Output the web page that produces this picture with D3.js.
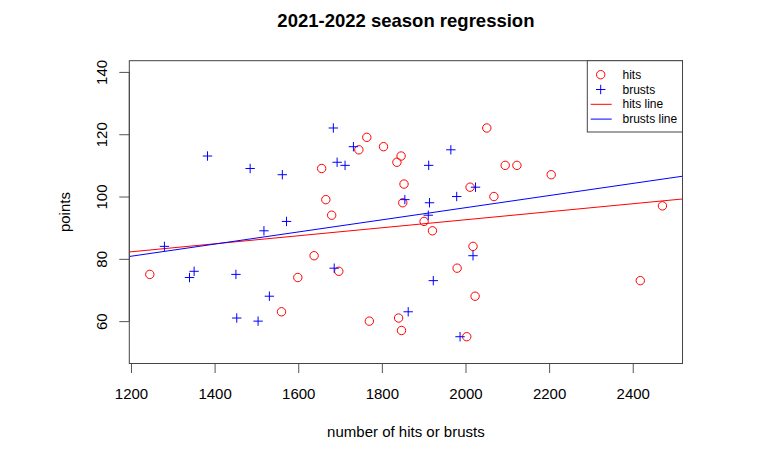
<!DOCTYPE html>
<html>
<head>
<meta charset="utf-8">
<script src="https://cdn.jsdelivr.net/npm/d3@7"></script>
<style>
  body { margin: 0; background: #fff; }
  svg { font-family: "Liberation Sans", Arial, Helvetica, sans-serif; }
</style>
</head>
<body>
<div id="chart"></div>
<script>
// hits (red circles) and brusts (blue plus signs)
const hitsX = [1245, 1560, 1599, 1638, 1656, 1666, 1680, 1697, 1745, 1764, 1770, 1804, 1836, 1840, 1846, 1847,
               1850, 1853, 1901, 1921, 1980, 2003, 2011, 2018, 2023, 2051, 2068, 2095, 2123, 2205, 2418, 2471];
const hitsY = [75, 63, 74, 81, 109, 99, 94, 76, 115, 119, 60, 116, 111, 61, 113, 57,
               98, 104, 92, 89, 77, 55, 103, 84, 68, 122, 100, 110, 110, 107, 73, 97];

const brustsX = [1280, 1340, 1351, 1383, 1451, 1453, 1485, 1504, 1518, 1531, 1562, 1572, 1684, 1686,
                 1693, 1712, 1732, 1855, 1863, 1911, 1912, 1914, 1923, 1965, 1979, 1987, 2018, 2024];
const brustsY = [84, 74, 76, 113, 75, 61, 109, 60, 89, 68, 107, 92, 122, 77,
                 111, 110, 116, 99, 63, 94, 110, 98, 73, 115, 100, 55, 81, 103];

// regression lines: [intercept, slope]
const hitsLine = [66.82, 0.01286];
const brustsLine = [57.45, 0.01948];

const xTicks = [1200, 1400, 1600, 1800, 2000, 2200, 2400];
const yTicks = [60, 80, 100, 120, 140];

const legendLabels = ["hits", "brusts", "hits line", "brusts line"];

const width = 783, height = 454;
const box = { left: 129.3, right: 682.5, top: 60.7, bottom: 363.5 };
const red = "#ff0000", blue = "#0000ff";

const svg = d3.select("#chart").append("svg")
  .attr("width", width)
  .attr("height", height);

// scales (R style: 4% padding around data / ylim)
const x = d3.scaleLinear().domain([1196, 2519]).range([box.left, box.right]);
const y = d3.scaleLinear().domain([46.4, 143.6]).range([box.bottom, box.top]);

// title
svg.append("text")
  .attr("x", (box.left + box.right) / 2)
  .attr("y", 27)
  .attr("text-anchor", "middle")
  .attr("font-size", "18.5px")
  .attr("font-weight", "bold")
  .text("2021-2022 season regression");

// x axis
const xAxis = svg.append("g")
  .attr("transform", `translate(0,${box.bottom})`)
  .call(d3.axisBottom(x).tickValues(xTicks).tickFormat(d3.format("d"))
    .tickSize(9.5).tickSizeOuter(0));
xAxis.select(".domain").remove();
xAxis.append("line")
  .attr("x1", x(xTicks[0])).attr("x2", x(xTicks[xTicks.length - 1]))
  .attr("stroke", "#555");
xAxis.selectAll(".tick line").attr("stroke", "#555");
xAxis.selectAll(".tick text")
  .attr("fill", "#000")
  .attr("font-size", "15px")
  .attr("font-family", "Liberation Sans, Arial, sans-serif")
  .attr("dy", null)
  .attr("y", 35);

// y axis (labels rotated like R's default las=0)
const yAxis = svg.append("g")
  .attr("transform", `translate(${box.left},0)`)
  .call(d3.axisLeft(y).tickValues(yTicks).tickFormat(d3.format("d"))
    .tickSize(10).tickSizeOuter(0));
yAxis.select(".domain").remove();
yAxis.append("line")
  .attr("y1", y(yTicks[0])).attr("y2", y(yTicks[yTicks.length - 1]))
  .attr("stroke", "#555");
yAxis.selectAll(".tick line").attr("stroke", "#555");
yAxis.selectAll(".tick text")
  .attr("fill", "#000")
  .attr("font-size", "15px")
  .attr("font-family", "Liberation Sans, Arial, sans-serif")
  .attr("x", null).attr("dy", null)
  .attr("text-anchor", "middle")
  .attr("transform", "translate(-27.5,0) rotate(-90)")
  .attr("y", 0)
  .attr("dominant-baseline", "central");

// axis titles
svg.append("text")
  .attr("x", (box.left + box.right) / 2)
  .attr("y", 437)
  .attr("text-anchor", "middle")
  .attr("font-size", "15px")
  .text("number of hits or brusts");

svg.append("text")
  .attr("transform", `translate(70,${(box.top + box.bottom) / 2}) rotate(-90)`)
  .attr("text-anchor", "middle")
  .attr("font-size", "15px")
  .text("points");

// clip for regression lines
svg.append("clipPath").attr("id", "plotclip")
  .append("rect")
  .attr("x", box.left).attr("y", box.top)
  .attr("width", box.right - box.left).attr("height", box.bottom - box.top);

const plot = svg.append("g").attr("clip-path", "url(#plotclip)");

// regression lines across the full x range
const xr = x.domain();
[[hitsLine, red], [brustsLine, blue]].forEach(([c, col]) => {
  plot.append("line")
    .attr("x1", x(xr[0])).attr("y1", y(c[0] + c[1] * xr[0]))
    .attr("x2", x(xr[1])).attr("y2", y(c[0] + c[1] * xr[1]))
    .attr("stroke", col)
    .attr("stroke-width", 1);
});

// hits points
const hits = hitsX.map((v, i) => ({ x: v, y: hitsY[i] }));
plot.selectAll(".hit")
  .data(hits)
  .join("circle")
  .attr("class", "hit")
  .attr("cx", d => x(d.x))
  .attr("cy", d => y(d.y))
  .attr("r", 4.2)
  .attr("fill", "none")
  .attr("stroke", red)
  .attr("stroke-width", 1);

// brusts points (plus signs)
const arm = 4.7;
const plusPath = (cx, cy) => `M${cx - arm},${cy}H${cx + arm}M${cx},${cy - arm}V${cy + arm}`;
const brusts = brustsX.map((v, i) => ({ x: v, y: brustsY[i] }));
plot.selectAll(".brust")
  .data(brusts)
  .join("path")
  .attr("class", "brust")
  .attr("d", d => plusPath(x(d.x), y(d.y)))
  .attr("fill", "none")
  .attr("stroke", blue)
  .attr("stroke-width", 1);

// plot box
svg.append("rect")
  .attr("x", box.left).attr("y", box.top)
  .attr("width", box.right - box.left).attr("height", box.bottom - box.top)
  .attr("fill", "none")
  .attr("stroke", "#444")
  .attr("stroke-width", 1);

// legend (top right, flush with the box)
const legend = svg.append("g");
const lg = { left: 587.3, top: box.top, bottom: 132, rowY0: 74.7, rowGap: 14.8, symX: 600.7, textX: 622.5 };
legend.append("rect")
  .attr("x", lg.left).attr("y", lg.top)
  .attr("width", box.right - lg.left).attr("height", lg.bottom - lg.top)
  .attr("fill", "#fff")
  .attr("stroke", "#444");

legendLabels.forEach((label, i) => {
  const ry = lg.rowY0 + i * lg.rowGap;
  if (i === 0) {
    legend.append("circle").attr("cx", lg.symX).attr("cy", ry).attr("r", 4.2)
      .attr("fill", "none").attr("stroke", red);
  } else if (i === 1) {
    legend.append("path")
      .attr("d", plusPath(lg.symX, ry))
      .attr("stroke", blue).attr("fill", "none");
  } else {
    legend.append("line")
      .attr("x1", 590.7).attr("x2", 611.7).attr("y1", ry).attr("y2", ry)
      .attr("stroke", i === 2 ? red : blue);
  }
  legend.append("text")
    .attr("x", lg.textX).attr("y", ry)
    .attr("dominant-baseline", "central")
    .attr("font-size", "12px")
    .text(label);
});
</script>
</body>
</html>
